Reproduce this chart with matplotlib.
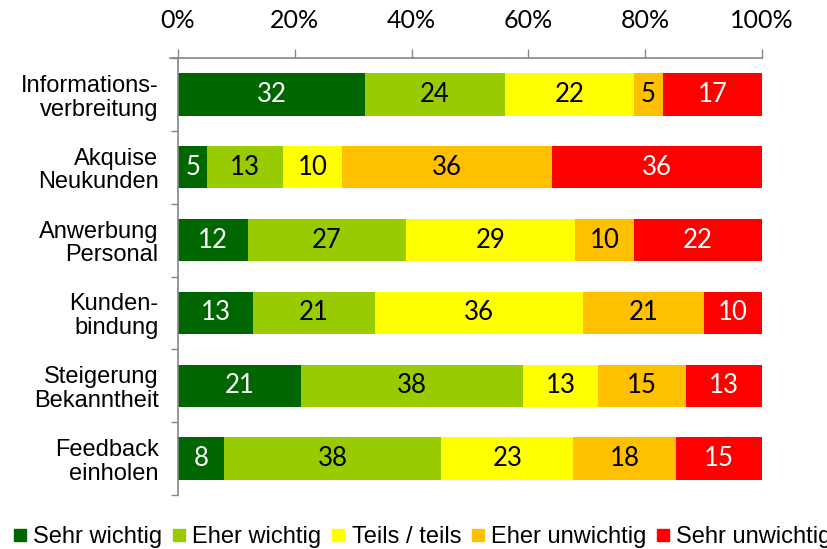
import matplotlib
matplotlib.use("Agg")
import matplotlib.pyplot as plt
from matplotlib.lines import Line2D
import numpy as np

categories = ["Informations-\nverbreitung", "Akquise\nNeukunden", "Anwerbung\nPersonal",
              "Kunden-\nbindung", "Steigerung\nBekanntheit", "Feedback\neinholen"]
series_names = ["Sehr wichtig", "Eher wichtig", "Teils / teils", "Eher unwichtig", "Sehr unwichtig"]
sehr_wichtig = [32, 5, 12, 13, 21, 8]
eher_wichtig = [24, 13, 27, 21, 38, 38]
teils_teils = [22, 10, 29, 36, 13, 23]
eher_unwichtig = [5, 36, 10, 21, 15, 18]
sehr_unwichtig = [17, 36, 22, 10, 13, 15]
x_ticks = [0, 20, 40, 60, 80, 100]
x_tick_labels = ["0%", "20%", "40%", "60%", "80%", "100%"]

colors = ["#006600", "#99CC00", "#FFFF00", "#FFC000", "#FF0000"]
text_colors = ["white", "black", "black", "black", "white"]

data = np.array([sehr_wichtig, eher_wichtig, teils_teils, eher_unwichtig, sehr_unwichtig], dtype=float)
totals = data.sum(axis=0)
pct = data / totals * 100

fig = plt.figure(figsize=(8.27, 5.49), dpi=100)
W, H = 827, 549
ax = fig.add_axes([178 / W, 1 - 495 / H, (762 - 178) / W, (495 - 58) / H])

y = np.arange(len(categories))
left = np.zeros(len(categories))
num_font = "Lato"
for i in range(len(series_names)):
    ax.barh(y, pct[i], left=left, height=0.58, color=colors[i], label=series_names[i])
    for j in range(len(categories)):
        ax.text(left[j] + pct[i][j] / 2, y[j], f"{int(data[i][j])}", ha="center", va="center",
                color=text_colors[i], fontsize=18.5, family=num_font)
    left += pct[i]

ax.set_xlim(0, 100)
ax.set_ylim(len(categories) - 0.5, -0.5)
ax.xaxis.tick_top()
ax.set_xticks(x_ticks)
ax.set_xticklabels(x_tick_labels, family=num_font, fontsize=18)
ax.tick_params(axis="x", direction="out", length=6.5, width=1, color="#868686", pad=12)
ax.set_yticks(y)
ax.set_yticklabels(categories, family="Liberation Sans", fontsize=17, linespacing=1.1)
ax.tick_params(axis="y", which="major", length=0, pad=14)
ax.set_yticks(np.arange(-0.5, len(categories), 1.0), minor=True)
ax.tick_params(axis="y", which="minor", direction="out", length=5, width=1, color="#868686")
for s in ["right", "bottom"]:
    ax.spines[s].set_visible(False)
for s in ["top", "left"]:
    ax.spines[s].set_color("#868686")
    ax.spines[s].set_linewidth(1.2)
ax.spines["top"].set_bounds(-1.4, 100)

handles = [Line2D([0], [0], marker="s", linestyle="none", markersize=8,
                  markerfacecolor=c, markeredgecolor=c) for c in colors]
fig.legend(handles, series_names, loc="center left", bbox_to_anchor=(14 / W, 1 - 537 / H),
           ncol=5, frameon=False, prop={"family": "Liberation Sans", "size": 17},
           handlelength=0.5, handletextpad=0.32, columnspacing=0.45, borderaxespad=0, borderpad=0)

fig.savefig("out.png", dpi=100)
